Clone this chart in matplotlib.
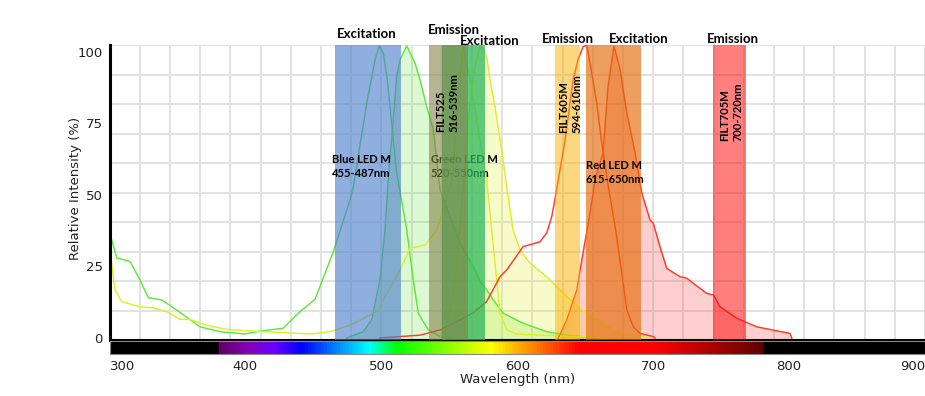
import matplotlib.pyplot as plt
import numpy as np
from matplotlib.colors import LinearSegmentedColormap, Normalize

# ---------------------------------------------- #
# spectra (nm, relative %)  #
# ---------------------------------------------- #
green_ex_nm = [300, 305.3, 315.1, 322.4, 328.5, 338.4, 349.4, 366.6, 381.3, 399.7,
               410.7, 427.7, 440.2, 451.2, 464.7, 477, 479.4, 489.3, 495.4, 498.5,
               501.5, 504.4, 507.6, 511.3, 512.3, 518.7, 523.5, 527.2, 534.6, 543.2, 552]
green_ex_val = [37.1, 28.0, 26.7, 20.3, 14.1, 13.3, 9.8, 3.9, 2.2, 1.4,
                2.4, 3.4, 9.2, 13.5, 30.1, 48.2, 52.8, 82.0, 97.1, 102.1,
                99.4, 90.1, 75.0, 57.5, 55.2, 37.7, 20.3, 8.6, 2.8, 0.5, 0.0]

green_em_nm = [474.5, 486.7, 492.9, 499.0, 502.7, 505.1, 509.6, 511.3, 513.8, 518.7,
               524.8, 528.5, 533.4, 538.3, 543.2, 550.6, 557.9, 567.7, 572.6, 577.5,
               582.4, 589.8, 604.5, 621.7, 636.4, 646.2, 660]
green_em_val = [0.0, 2.2, 6.3, 20.3, 37.7, 55.2, 80.8, 91.3, 97.1, 102.0,
                96.0, 90.1, 80.8, 72.7, 51.7, 42.4, 33.1, 24.9, 19.9, 16.8,
                13.3, 8.6, 5.1, 2.2, 1.0, 0.5, 0.0]

yellow_ex_nm = [300.4, 304, 309, 322.4, 332, 342.1, 351.9, 359.2, 371.5, 386.2,
                405.6, 427.7, 447.6, 462.3, 477, 496.6, 513.8, 521.1, 532.2, 540.8,
                545.6, 551.8, 555.7, 558.6, 560.3, 565.3, 571.2, 577.5, 582.4, 584.9,
                587.3, 592.3, 599.6, 631, 675]
yellow_ex_val = [30.7, 16.8, 12.7, 10.9, 10.5, 9.2, 6.5, 6.5, 4.5, 3.0,
                 2.4, 1.9, 1.4, 2.2, 4.5, 9.2, 23.8, 31.3, 32.5, 37.7,
                 44.7, 55.2, 76.1, 93.6, 102.0, 90.0, 72.7, 55.2, 31.9, 20.3,
                 8.6, 2.8, 1.4, 0.7, 0.0]

yellow_em_nm = [543.2, 549.1, 554.3, 559.4, 563.9, 568.3, 572.6, 574.9, 577.5, 580.0,
                583.6, 588.6, 592.3, 596.9, 602.1, 609.4, 621.7, 636.4, 651.1, 670.7,
                690.3, 700.1]
yellow_em_val = [0.3, 6.3, 20.3, 48.2, 76.1, 93.6, 102.2, 100.6, 98.3, 90.1,
                 80.8, 65.7, 52.8, 37.7, 30.7, 26.1, 21.4, 14.4, 8.6, 2.8,
                 0.5, 0.0]

red_ex_nm = [499, 528.5, 543.2, 557.9, 567.5, 577.5, 587.3, 592.3, 604.3, 616.8,
             621.7, 625.4, 626.3, 630.2, 635.2, 641.1, 644.7, 648.4, 651.1, 654.8,
             658.5, 662.2, 667.0, 672.0, 676.9, 680.6, 685.4, 690.3, 700.1, 701.4]
red_ex_val = [0.0, 1.0, 2.8, 6.3, 8.7, 12.7, 21.4, 23.8, 31.9, 33.6,
              36.7, 42.4, 44.7, 55.2, 69.2, 90.1, 97.1, 101.7, 102.2, 92.5,
              82.0, 68.0, 52.8, 38.9, 22.6, 9.8, 3.9, 1.6, 0.5, 0.0]

red_em_nm = [630.2, 636.4, 643.8, 648.4, 653.6, 657.2, 663.1, 666.8, 671.2, 675.7,
             680.6, 686.7, 691.6, 697.7, 700.1, 705.0, 710.0, 719.8, 724.7, 729.6,
             739.4, 744.3, 749.2, 761.5, 776.2, 800.7, 802.0]
red_em_val = [0.0, 6.3, 16.8, 29.7, 43.7, 55.2, 64.6, 87.8, 102.0, 93.6,
              78.6, 64.6, 50.7, 41.2, 40.1, 31.9, 24.3, 21.4, 20.9, 19.1,
              15.6, 15.0, 10.9, 6.9, 3.9, 1.6, 0.0]

# ------------------------------- #
# LED / filter bands (nm)         #
# ------------------------------- #
band_lo = [465.9, 544.7, 535.1, 628.0, 650.4, 743.9]
band_hi = [514.3, 576.3, 563.4, 646.4, 691.1, 768.6]
band_color = ["#4a7ecb", "#2db75c", "#827e43", "#fbb000", "#e46c0a", "#ff0000"]
band_alpha = [0.62, 0.75, 0.58, 0.5, 0.65, 0.5]

head_text = ["Excitation", "Emission", "Excitation", "Emission", "Excitation", "Emission"]
head_x = [489.5, 553.1, 580.0, 637.0, 689.2, 758.4]
head_y = [104.7, 106.2, 102.3, 103.1, 103.1, 103.1]

led_text = ["Blue LED M\n455-487nm", "Green LED M\n520-550nm", "Red LED M\n615-650nm"]
led_x = [463.7, 536.3, 650.4]
led_y = [56.3, 56.3, 54.0]

filt_text = ["FILT525\n516-539nm", "FILT605M\n594-610nm", "FILT705M\n700-720nm"]
filt_x = [548.7, 639.2, 757.7]
filt_y = [72.0, 71.6, 68.9]

xticks = [300, 400, 500, 600, 700, 800, 900]
yticks = [0, 25, 50, 75, 100]

# visible spectrum strip
spec_nm = [300, 379.9, 380, 400, 420, 440, 490, 510, 580, 645, 700, 780, 780.1, 900]
spec_col = ["#000000", "#000000", "#610061", "#8300b5", "#6a00ff", "#0000ff",
            "#00ffff", "#00ff00", "#ffff00", "#ff0000", "#ff0000", "#610000",
            "#000000", "#000000"]

# ================ #
# figure layout    #
# ================ #
fig = plt.figure(figsize=(9.25, 3.96), dpi=100, facecolor="white")
ax = fig.add_axes([109.5 / 925, 1 - 340 / 396, 815.5 / 925, 295 / 396])
axb = fig.add_axes([109.5 / 925, 1 - 354 / 396, 815.5 / 925, 13 / 396])

ylo, yhi = -0.7, 102.3
ax.set_xlim(300, 900)
ax.set_ylim(ylo, yhi)

# grid (10 rows, ~27 columns like the source chart)
ax.set_xticks(np.linspace(300, 900, 28), minor=True)
ax.set_yticks(np.linspace(ylo, yhi, 11), minor=True)
ax.grid(which="minor", color="#e2e2e2", lw=1.4)
ax.set_axisbelow(True)
ax.set_xticks([])
ax.set_yticks(yticks)
ax.tick_params(which="both", length=0)
ax.tick_params(axis="y", pad=5, labelsize=9.5, labelcolor="#222222")
for s in ["top", "right"]:
    ax.spines[s].set_visible(False)
ax.spines["left"].set_linewidth(2.2)
ax.spines["bottom"].set_linewidth(1.5)

# ---------------- #
# spectra          #
# ---------------- #
ax.fill_between(green_em_nm, green_em_val, ylo, color="#66e63c", alpha=0.22, lw=0, zorder=1)
ax.fill_between(yellow_em_nm, yellow_em_val, ylo, color="#e2f028", alpha=0.25, lw=0, zorder=1)
ax.fill_between(red_em_nm, red_em_val, ylo, color="#ff3a3a", alpha=0.24, lw=0, zorder=1)

ax.plot(green_ex_nm, green_ex_val, color="#5ee83a", lw=1.05, zorder=2)
ax.plot(green_em_nm, green_em_val, color="#5ee83a", lw=1.05, zorder=2)
ax.plot(yellow_ex_nm, yellow_ex_val, color="#dcef2a", lw=1.05, zorder=2)
ax.plot(yellow_em_nm, yellow_em_val, color="#dcef2a", lw=1.05, zorder=2)
ax.plot(red_ex_nm, red_ex_val, color="#ff3a2a", lw=1.05, zorder=2)
ax.plot(red_em_nm, red_em_val, color="#ff3a2a", lw=1.05, zorder=2)

# --------------- #
# bands and text  #
# --------------- #
lab_font = dict(family="Lato", weight="bold", color="black")
ax.text(led_x[1], led_y[1], led_text[1], fontsize=8, va="baseline", ha="left",
        linespacing=1.35, zorder=2.5, **lab_font)

for lo, hi, c, a in zip(band_lo, band_hi, band_color, band_alpha):
    ax.axvspan(lo, hi, color=c, alpha=a, lw=0, zorder=3)

for i in (0, 2):
    ax.text(led_x[i], led_y[i], led_text[i], fontsize=8, va="baseline", ha="left",
            linespacing=1.35, zorder=5, **lab_font)

for t, x, y in zip(filt_text, filt_x, filt_y):
    ax.text(x, y, t, fontsize=8, rotation=90, ha="center", va="bottom",
            multialignment="left", linespacing=1.3, zorder=5, **lab_font)

for t, x, y in zip(head_text, head_x, head_y):
    ax.text(x, y, t, fontsize=9.5, ha="center", va="baseline", clip_on=False,
            zorder=6, **lab_font)

# ----------------------- #
# spectrum strip, labels  #
# ----------------------- #
spec_cmap = LinearSegmentedColormap.from_list(
    "spec", [((n - 300) / 600, c) for n, c in zip(spec_nm, spec_col)])
axb.imshow(np.linspace(300, 900, 1200)[None, :], aspect="auto", cmap=spec_cmap,
           norm=Normalize(300, 900), extent=[300, 900, 0, 1])
axb.set_xlim(300, 900)
axb.set_yticks([])
axb.set_xticks(xticks)
axb.tick_params(length=0, pad=4, labelsize=9.5, labelcolor="#222222")
for s in axb.spines.values():
    s.set_color("#888888")
    s.set_linewidth(0.8)
tl = axb.get_xticklabels()
tl[0].set_ha("left")
tl[-1].set_ha("right")

fig.text(518 / 925, 1 - 380 / 396, "Wavelength (nm)", ha="center", va="center",
         fontsize=9.5, color="#222222")
fig.text(75 / 925, 1 - 188 / 396, "Relative Intensity (%)", ha="center", va="center",
         rotation=90, fontsize=9.5, color="#222222")

fig.savefig("out.png", dpi=100, facecolor="white")
